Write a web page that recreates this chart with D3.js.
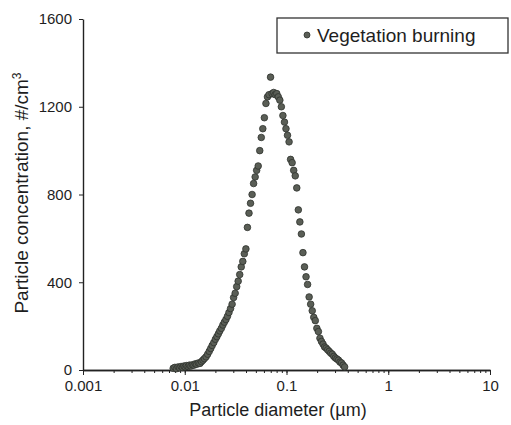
<!DOCTYPE html>
<html>
<head>
<meta charset="utf-8">
<script src="https://cdn.jsdelivr.net/npm/d3@7"></script>
<style>
  body { margin: 0; background: #fff; }
  svg text { font-family: "Liberation Sans", Arial, sans-serif; fill: #1e1e1e; }
</style>
</head>
<body>
<div id="chartDiv"></div>
<script>
// particle diameter (um) and concentration (#/cm3)
var diameters = [
  0.0077, 0.0080, 0.0083, 0.0086, 0.0089, 0.0092, 0.0095, 0.0098, 0.0101, 0.0104,
  0.0108, 0.0111, 0.0115, 0.0119, 0.0123, 0.0127, 0.0131, 0.0136, 0.0141, 0.0146,
  0.0151, 0.0156, 0.0162, 0.0168, 0.0174, 0.0180, 0.0186, 0.0193, 0.0200, 0.0207,
  0.0214, 0.0221, 0.0229, 0.0237, 0.0245, 0.0254, 0.0263, 0.0272, 0.0282, 0.0292,
  0.0302, 0.0313, 0.0324, 0.0335, 0.0347, 0.0359, 0.0372, 0.0385, 0.0399, 0.0413,
  0.0428, 0.0443, 0.0459, 0.0475, 0.0492, 0.0509, 0.0527, 0.0546, 0.0565, 0.0585,
  0.0606, 0.0628, 0.0650, 0.0673, 0.0697, 0.0722, 0.0748, 0.0774, 0.0802, 0.0830,
  0.0860, 0.0890, 0.0922, 0.0955, 0.0988, 0.1023, 0.1060, 0.1097, 0.1136, 0.1177,
  0.1219, 0.1262, 0.1307, 0.1353, 0.1401, 0.1451, 0.1503, 0.1556, 0.1612, 0.1669,
  0.1728, 0.1790, 0.1853, 0.1919, 0.1988, 0.2058, 0.2132, 0.2207, 0.2286, 0.2367,
  0.2451, 0.2538, 0.2628, 0.2722, 0.2818, 0.2918, 0.3022, 0.3130, 0.3241, 0.3356,
  0.3475, 0.3599, 0.3727
];
var concentrations = [
  8, 12, 6, 14, 10, 16, 12, 18, 14, 20,
  16, 22, 18, 24, 22, 28, 26, 32, 30, 38,
  45, 52, 60, 72, 85, 98, 112, 125, 140, 152,
  165, 178, 190, 205, 218, 230, 245, 262, 280, 300,
  330, 350, 380, 405, 435, 470, 495, 530, 552, 650,
  715, 760, 800, 850, 880, 910, 930, 1000, 1060, 1100,
  1150, 1215, 1245, 1255, 1335, 1260, 1265, 1255, 1260, 1245,
  1230, 1200, 1160, 1130, 1100, 1070, 1040, 960, 945, 910,
  885, 830, 730, 675, 620, 535, 470, 425, 390, 333,
  300, 270, 240, 225, 190, 175, 145, 130, 118, 105,
  100, 92, 85, 77, 72, 62, 55, 50, 45, 36,
  32, 22, 14
];
var yTicks = [0, 400, 800, 1200, 1600];
var xMajorTicks = [0.001, 0.01, 0.1, 1, 10];
var xTickLabels = ["0.001", "0.01", "0.1", "1", "10"];
var seriesName = "Vegetation burning";

var width = 511, height = 425;
var xScale = d3.scaleLog().domain([0.001, 10]).range([83, 490]);
var yScale = d3.scaleLinear().domain([0, 1600]).range([370, 19]);

var svg = d3.select("#chartDiv").append("svg")
  .attr("width", width)
  .attr("height", height);

svg.append("rect").attr("width", width).attr("height", height).attr("fill", "#fff");

function styleAxis(g){
  g.select(".domain").attr("stroke", "#222").attr("stroke-width", 1.4);
  g.selectAll(".tick line").attr("stroke", "#222").attr("stroke-width", 1);
  g.selectAll(".tick text").attr("font-size", 15).attr("fill", "#1e1e1e")
    .attr("font-family", "Liberation Sans, Arial, sans-serif");
}

// y axis
var yAxis = svg.append("g")
  .attr("transform", "translate(" + xScale.range()[0] + ",0)")
  .call(d3.axisLeft(yScale).tickValues(yTicks).tickSize(4).tickSizeOuter(0).tickPadding(7)
    .tickFormat(d3.format("d")));
styleAxis(yAxis);

// x axis minor ticks
var xMinor = svg.append("g")
  .attr("transform", "translate(0," + yScale(0) + ")")
  .call(d3.axisBottom(xScale).ticks(10).tickSize(3).tickSizeOuter(0).tickFormat(""));
styleAxis(xMinor);

// x axis major ticks + labels
var xAxis = svg.append("g")
  .attr("transform", "translate(0," + yScale(0) + ")")
  .call(d3.axisBottom(xScale).tickValues(xMajorTicks).tickSize(5).tickSizeOuter(0).tickPadding(5)
    .tickFormat(function(d, i){ return xTickLabels[i]; }));
styleAxis(xAxis);

// points
var points = diameters.map(function(d, i){ return {d: d, v: concentrations[i]}; });
svg.append("g").selectAll("circle")
  .data(points)
  .enter()
  .append("circle")
  .attr("cx", function(p){ return xScale(p.d); })
  .attr("cy", function(p){ return yScale(p.v); })
  .attr("r", 3.3)
  .attr("fill", "#5a5e56")
  .attr("stroke", "#2f322d")
  .attr("stroke-width", 0.8);

// axis titles
svg.append("text")
  .attr("x", 278).attr("y", 416)
  .attr("text-anchor", "middle")
  .attr("font-size", 18)
  .text("Particle diameter (\u00b5m)");

var yTitle = svg.append("text")
  .attr("transform", "translate(28,193) rotate(-90)")
  .attr("text-anchor", "middle")
  .attr("font-size", 19);
yTitle.append("tspan").text("Particle concentration, #/cm");
yTitle.append("tspan").attr("font-size", 12).attr("dy", -7).text("3");

// legend
var legend = svg.append("g");
legend.append("rect")
  .attr("x", 277).attr("y", 18).attr("width", 231).attr("height", 35)
  .attr("fill", "#fff").attr("stroke", "#333").attr("stroke-width", 1.3);
legend.append("circle")
  .attr("cx", 307).attr("cy", 35).attr("r", 3)
  .attr("fill", "#5a5e56").attr("stroke", "#2f322d").attr("stroke-width", 0.8);
legend.append("text")
  .attr("x", 317).attr("y", 42)
  .attr("font-size", 19)
  .text(seriesName);
</script>
</body>
</html>
